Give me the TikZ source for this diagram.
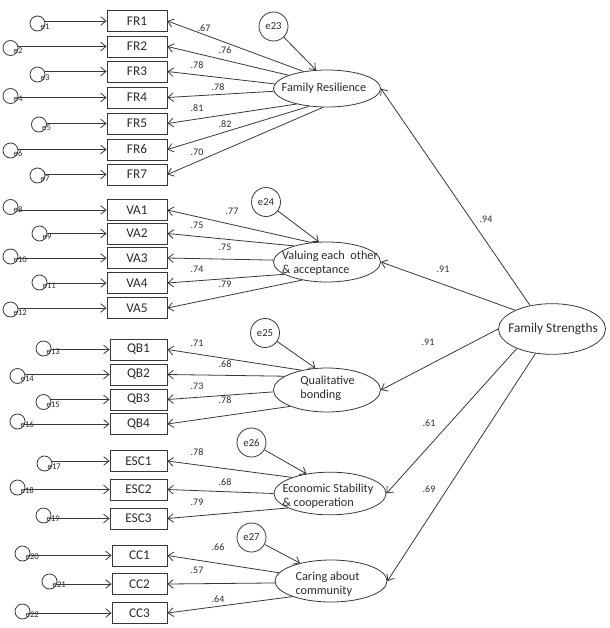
\documentclass[tikz,border=0pt]{standalone}
\usepackage{fontspec}
\setmainfont{Carlito}
\usetikzlibrary{arrows.meta,shapes.geometric}
\definecolor{ln}{HTML}{383838}
\definecolor{tx}{HTML}{2A2A2A}
\begin{document}
\begin{tikzpicture}[x=0.75pt,y=-0.75pt,
  every node/.style={text=tx},
  ind/.style={draw=ln,line width=0.6pt,minimum height=15.75pt,inner sep=0pt,font=\fontsize{10}{12}\selectfont},
  err/.style={circle,draw=ln,line width=0.6pt,minimum size=11.25pt,inner sep=0pt},
  elab/.style={font=\fontsize{6.5}{7}\selectfont,inner sep=0pt,anchor=west},
  bigerr/.style={circle,draw=ln,line width=0.6pt,minimum size=21.75pt,inner sep=0pt,font=\fontsize{8}{9}\selectfont},
  lat/.style={ellipse,draw=ln,line width=0.6pt,inner sep=0pt},
  lattext/.style={inner sep=0pt,align=left,font=\fontsize{9.2}{10.5}\selectfont},
  num/.style={inner sep=0pt,font=\fontsize{7.5}{8}\selectfont},
  arr/.style={draw=ln,line width=0.6pt,-{Straight Barb[length=4pt,width=6.5pt]}}
]
\useasboundingbox (0,0) rectangle (610,628);

% latent variables
\node[lat,minimum width=80.25pt,minimum height=27.75pt] (fr) at (327,88.5) {};
\node[lattext] (frt) at (324,88.5) {Family Resilience};
\node[lat,minimum width=80.25pt,minimum height=30pt] (va) at (327,262) {};
\node[lattext] (vat) at (330,263) {Valuing each\ \ other\\\& acceptance};
\node[lat,minimum width=80.25pt,minimum height=33pt] (qb) at (327,390) {};
\node[lattext] (qbt) at (327.5,388) {Qualitative\\bonding};
\node[lat,minimum width=84pt,minimum height=32pt] (esc) at (330,493.5) {};
\node[lattext] (esct) at (328,496) {Economic Stability\\\& cooperation};
\node[lat,minimum width=84pt,minimum height=31.5pt] (cc) at (331,581) {};
\node[lattext] (cct) at (327.5,584) {Caring about\\community};
\node[lat,minimum width=80.25pt,minimum height=38pt] (fs) at (552,329) {};
\node[lattext,font=\fontsize{10}{12}\selectfont] (fst) at (553,329) {Family Strengths};

% disturbance terms
\node[bigerr] (e23) at (273.5,26.5) {e23};
\node[bigerr] (e24) at (266,202) {e24};
\node[bigerr] (e25) at (265,333) {e25};
\node[bigerr] (e26) at (251.5,442.5) {e26};
\node[bigerr] (e27) at (251.5,537.5) {e27};
\draw[arr] (e23) -- (fr.121);
\draw[arr] (e24) -- (va.112);
\draw[arr] (e25) -- (qb.118);
\draw[arr] (e26) -- (esc.140);
\draw[arr] (e27) -- (cc.150);

% indicators with error terms
\foreach \n/\bx/\by/\w/\ex/\ey/\e in {
  FR1/137/21/45/37.5/23.5/e1, FR2/137/46.5/45/10.5/48/e2,
  FR3/137/71.5/45/37.5/74.5/e3, FR4/137/97.5/45/10.5/96/e4,
  FR5/137/123.5/45/39/124.5/e5, FR6/137/149.5/45/10.5/150.5/e6,
  FR7/137/174.5/45/37.5/175.5/e7,
  VA1/137/210/45/10.5/207/e8, VA2/137/233.5/45/39.5/233.5/e9,
  VA3/137/258/45/10.5/256.5/e10, VA4/137/283/45/39.5/282.5/e11,
  VA5/137/308/45/10.5/309.5/e12,
  QB1/138.5/349.5/42.75/43.5/348.5/e13, QB2/138.5/374.5/42.75/17.5/376/e14,
  QB3/138.5/399.5/42.75/43.5/402/e15, QB4/138.5/424/42.75/17.5/421.5/e16,
  ESC1/138.5/461/42.75/44.5/463.5/e17, ESC2/138.5/489.5/42.75/17.5/487.5/e18,
  ESC3/138.5/518.5/42.75/43.5/515.5/e19,
  CC1/139.5/555.5/41.25/22.5/553.5/e20, CC2/139.5/584/41.25/49.5/581.5/e21,
  CC3/139.5/613/41.25/22.5/611.5/e22} {
  \node[ind,minimum width=\w pt] (\n) at (\bx,\by) {\n};
  \node[err] (e\n) at (\ex,\ey) {};
  \node[elab] (el\n) at ([xshift=2.2pt,yshift=-2.2pt]e\n.center) {\e};
  \draw[arr] (e\n.east |- \n.west) -- (\n.west);
}

% loadings
\foreach \lv/\a/\b/\l/\lx/\ly in {
  fr/144/FR1/.67/204/28.5, fr/161.6/FR2/.76/225/50, fr/175/FR3/.78/197/65,
  fr/183/FR4/.78/218/87, fr/207/FR5/.81/197/108, fr/225/FR6/.82/225/124,
  fr/258/FR7/.70/197/152,
  va/129/VA1/.77/232/211, va/154/VA2/.75/197/225, va/178/VA3/.75/225/247,
  va/196/VA4/.74/197/269, va/216/VA5/.79/225/284,
  qb/142/QB1/.71/197/343, qb/162/QB2/.68/225/364, qb/182/QB3/.73/197/386,
  qb/204/QB4/.78/225/400,
  esc/157/ESC1/.78/197/452, esc/180/ESC2/.68/225/482, esc/199/ESC3/.79/197/502,
  cc/171/CC1/.66/218/547, cc/182/CC2/.57/197/570, cc/202/CC3/.64/218/599} {
  \draw[arr] (\lv.\a) -- (\b.east);
  \node[num] (l\b) at (\lx,\ly) {\l};
}

% second-order loadings
\draw[arr] (fs.133) -- (fr.east);
\draw[arr] (fs.153) -- (va.east);
\draw[arr] (fs.180) -- (qb.east);
\draw[arr] (fs.209) -- (esc.east);
\draw[arr] (fs.236) -- (cc.east);
\node[num] (lfr) at (486,219) {.94};
\node[num] (lva) at (443,269) {.91};
\node[num] (lqb) at (428,342) {.91};
\node[num] (lesc) at (429,423) {.61};
\node[num] (lcc) at (429,489) {.69};
\end{tikzpicture}
\end{document}
